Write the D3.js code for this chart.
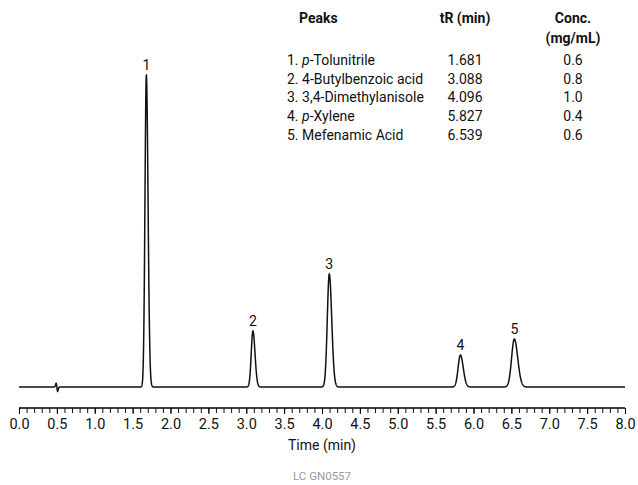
<!DOCTYPE html>
<html><head><meta charset="utf-8">
<script src="https://cdn.jsdelivr.net/npm/d3@7"></script>
<style>body{margin:0;background:#fff}text{font-family:Roboto,sans-serif}</style>
</head><body><svg width="638" height="485"></svg>
<script>
const peakNames=["p-Tolunitrile","4-Butylbenzoic acid","3,4-Dimethylanisole","p-Xylene","Mefenamic Acid"];
const italicPrefix=[true,false,false,true,false];
const retention=[1.681,3.088,4.096,5.827,6.539];
const retentionLabels=["1.681","3.088","4.096","5.827","6.539"];
const concLabels=["0.6","0.8","1.0","0.4","0.6"];
const peakHeights=[312,56,113,32,48];
const peakWidths=[0.018,0.022,0.026,0.03,0.036];
const xTicks=[0,0.5,1,1.5,2,2.5,3,3.5,4,4.5,5,5.5,6,6.5,7,7.5,8];

const svg=d3.select("svg");
const x=d3.scaleLinear().domain([0,8]).range([19,625]);
const y=d3.scaleLinear().domain([0,312]).range([387,75]);

const pts=[];
for(let t=0.0;t<=8.0001;t+=0.002){
  let v=0;
  retention.forEach((r,i)=>{const s=peakWidths[i]*(t>r?1.25:1);v+=peakHeights[i]*Math.exp(-0.5*((t-r)/s)**2);});
  const d=t-0.5;
  v+= 6*Math.exp(-0.5*(d/0.01)**2)*(d<0?1:-1.2)*(Math.abs(d)/0.01);
  pts.push([t,v]);
}
svg.append("path").datum(pts).attr("fill","none").attr("stroke","#111").attr("stroke-width",1.5)
  .attr("d",d3.line().x(d=>x(d[0])).y(d=>y(d[1])));

retention.forEach((r,i)=>{
  svg.append("text").attr("x",x(r)).attr("y",y(peakHeights[i])-5).attr("text-anchor","middle")
   .attr("font-size",14).attr("fill","#111").text(i+1);
});

const ax=svg.append("g").attr("transform","translate(0,408)");
ax.call(d3.axisBottom(x).tickValues(d3.range(0,80.5,1).map(d=>d/10)).tickSize(4).tickFormat(""))
  .call(g=>g.select(".domain").attr("d","M19,0H625").attr("stroke-width",1.3));
ax.selectAll(".tick line").attr("y2",5).attr("stroke","#111");
const ax2=svg.append("g").attr("transform","translate(0,408)");
ax2.call(d3.axisBottom(x).tickValues(xTicks).tickSize(6).tickFormat(d3.format(".1f")));
ax2.select(".domain").remove();
ax2.selectAll("text").attr("font-size",14.5).attr("fill","#111").attr("dy","0.85em");
svg.append("text").attr("x",x(4)).attr("y",450).attr("text-anchor","middle").attr("font-size",14).attr("fill","#111").text("Time (min)");
svg.append("text").attr("x",x(4)).attr("y",480).attr("text-anchor","middle").attr("font-size",11.5).attr("fill","#999").text("LC  GN0557");

const tb=svg.append("g").attr("font-size",14).attr("fill","#111");
tb.append("text").attr("x",299).attr("y",23).attr("font-weight","bold").text("Peaks");
tb.append("text").attr("x",465).attr("y",23).attr("text-anchor","middle").attr("font-weight","bold").text("tR (min)");
tb.append("text").attr("x",573).attr("y",23).attr("text-anchor","middle").attr("font-weight","bold").text("Conc.");
tb.append("text").attr("x",573).attr("y",43).attr("text-anchor","middle").attr("font-weight","bold").text("(mg/mL)");
peakNames.forEach((n,i)=>{
  const yy=65+i*18.7;
  const t=tb.append("text").attr("x",287).attr("y",yy);
  t.append("tspan").text((i+1)+". ");
  if(italicPrefix[i]){t.append("tspan").attr("font-style","italic").text("p");t.append("tspan").text(n.slice(1));}
  else t.append("tspan").text(n);
  tb.append("text").attr("x",465).attr("y",yy).attr("text-anchor","middle").text(retentionLabels[i]);
  tb.append("text").attr("x",573).attr("y",yy).attr("text-anchor","middle").text(concLabels[i]);
});
</script></body></html>
